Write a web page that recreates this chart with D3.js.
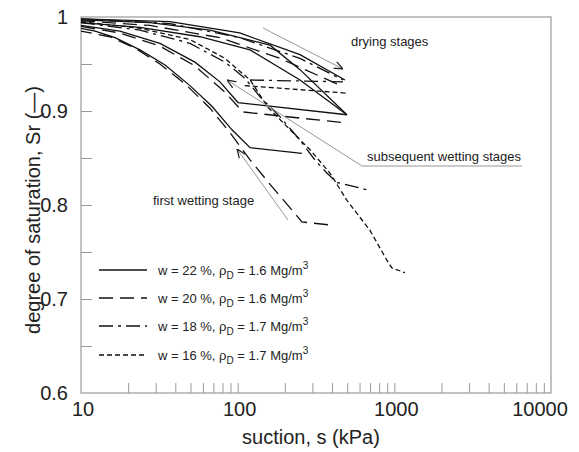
<!DOCTYPE html>
<html>
<head>
<meta charset="utf-8">
<script src="https://cdn.jsdelivr.net/npm/d3@7"></script>
<style>
  body { margin: 0; background: #fff; }
  svg { font-family: "Liberation Sans", Arial, sans-serif; }
</style>
</head>
<body>
<svg id="chart"></svg>
<script>
// axis ticks
const suctionTicks = [10, 100, 1000, 10000];
const srTicks = [0.6, 0.7, 0.8, 0.9, 1];

// legend
const waterContents = ['22', '20', '18', '16'];
const densities = ['1.6', '1.6', '1.7', '1.7'];

// each series: list of segments [suction kPa, Sr]
const w22 = [
  [[257, 0.855], [120, 0.861], [92, 0.880], [68.5, 0.905], [49.6, 0.927], [34.4, 0.949], [23.8, 0.965], [16.5, 0.978], [12.3, 0.985], [10, 0.988]],
  [[10, 0.991], [17.7, 0.985], [31.9, 0.972], [53.4, 0.952], [77.1, 0.931], [100.5, 0.909], [498, 0.896]],
  [[10, 0.994], [23.8, 0.989], [57.4, 0.979], [120, 0.965], [250, 0.933], [498, 0.896]],
  [[10, 0.997], [27.6, 0.994], [66.6, 0.986], [161, 0.970], [250, 0.944], [498, 0.896]],
  [[10, 0.998], [37, 0.995], [103, 0.983], [250, 0.960], [484, 0.933]]
];
const w20 = [
  [[377, 0.779], [257, 0.782], [216, 0.797], [161, 0.822], [120, 0.848], [89.3, 0.877], [66.6, 0.903], [46.1, 0.929], [31.9, 0.950], [22.1, 0.967], [15.3, 0.979], [10, 0.985]],
  [[10, 0.990], [17.7, 0.983], [31.9, 0.969], [53.4, 0.948], [83, 0.920], [108, 0.899], [506, 0.887]],
  [[10, 0.996], [27.6, 0.991], [77.1, 0.978], [186, 0.956], [470, 0.926]]
];
const w18 = [
  [[10, 0.994], [23.8, 0.986], [49.6, 0.972], [83, 0.952], [111, 0.935], [139, 0.915], [186, 0.894], [250, 0.869], [311, 0.848], [371, 0.834], [430, 0.824], [679, 0.816]],
  [[120, 0.933], [470, 0.931]],
  [[10, 0.998], [37, 0.993], [103, 0.978], [250, 0.956], [470, 0.933]]
];
const w16 = [
  [[10, 0.995], [23.8, 0.988], [49.6, 0.976], [83, 0.956], [120, 0.933], [156, 0.904], [216, 0.880], [289, 0.859], [388, 0.834], [498, 0.805], [699, 0.773], [898, 0.741], [966, 0.733], [1169, 0.728]],
  [[111, 0.927], [498, 0.919]]
];

const series = [
  { data: w22, dash: null },
  { data: w20, dash: '14,7' },
  { data: w18, dash: '14,5,3,5' },
  { data: w16, dash: '5,3' }
];

const width = 579, height = 452;
const margin = { left: 81, right: 28, top: 17, bottom: 59 };

const svg = d3.select('#chart').attr('width', width).attr('height', height);

const x = d3.scaleLog().domain([10, 10000]).range([margin.left, width - margin.right]);
const y = d3.scaleLinear().domain([0.6, 1]).range([height - margin.bottom, margin.top]);

const frameColor = '#9a9a9a';
const textColor = '#222';

// minor ticks along the bottom (inside)
const minorX = [];
[10, 100, 1000].forEach(d => { for (let k = 2; k <= 10; k++) minorX.push(d * k); });
svg.append('g')
  .attr('transform', `translate(0,${y(0.6)})`)
  .call(d3.axisBottom(x).tickValues(minorX.filter(v => v < 10000)).tickSize(-10).tickFormat(''))
  .call(g => g.select('.domain').remove())
  .call(g => g.selectAll('line').attr('stroke', frameColor));

svg.append('g')
  .attr('transform', `translate(${x(10)},0)`)
  .call(d3.axisLeft(y).tickValues(d3.range(0.65, 0.99, 0.05)).tickSize(-11).tickFormat(''))
  .call(g => g.select('.domain').remove())
  .call(g => g.selectAll('line').attr('stroke', frameColor));

// frame
svg.append('rect')
  .attr('x', x(10)).attr('y', y(1))
  .attr('width', x(10000) - x(10)).attr('height', y(0.6) - y(1))
  .attr('fill', 'none').attr('stroke', frameColor).attr('stroke-width', 1.2);

// tick labels
svg.append('g').selectAll('text')
  .data(suctionTicks).enter().append('text')
  .attr('x', d => Math.min(x(d) + 2, width - 39)).attr('y', 416)
  .attr('text-anchor', 'middle').attr('font-size', 20).attr('fill', textColor)
  .text(d => d);

svg.append('g').selectAll('text')
  .data(srTicks).enter().append('text')
  .attr('x', 68).attr('y', d => y(d) + 7)
  .attr('text-anchor', 'end').attr('font-size', 20).attr('fill', textColor)
  .text(d => d === 1 ? '1' : d.toFixed(1));

svg.append('text')
  .attr('x', 311).attr('y', 444)
  .attr('text-anchor', 'middle').attr('font-size', 20).attr('fill', textColor)
  .text('suction, s (kPa)');

svg.append('text')
  .attr('transform', `translate(40,${(y(0.6) + y(1)) / 2 + 5}) rotate(-90)`)
  .attr('text-anchor', 'middle').attr('font-size', 20).attr('fill', textColor)
  .text('degree of saturation, Sr (\u2014)');

// data lines
const line = d3.line().x(d => x(d[0])).y(d => y(d[1]));
series.forEach(s => {
  svg.append('g').selectAll('path')
    .data(s.data).enter().append('path')
    .attr('d', line)
    .attr('fill', 'none')
    .attr('stroke', '#111')
    .attr('stroke-width', 1.3)
    .attr('stroke-dasharray', s.dash);
});

// annotation arrows
const defs = svg.append('defs');
defs.append('marker')
  .attr('id', 'arr').attr('viewBox', '0 -5 10 10')
  .attr('refX', 10).attr('refY', 0)
  .attr('markerWidth', 9).attr('markerHeight', 9)
  .attr('markerUnits', 'userSpaceOnUse')
  .attr('orient', 'auto')
  .append('path').attr('d', 'M0,-4L10,0L0,4').attr('fill', 'none').attr('stroke', '#222').attr('stroke-width', 1.4);

const notes = svg.append('g').attr('font-size', 13).attr('fill', textColor);
const gray = '#8a8a8a';

// drying stages
svg.append('line').attr('x1', 263).attr('y1', 28).attr('x2', 343).attr('y2', 69)
  .attr('stroke', gray).attr('stroke-width', 0.9).attr('marker-end', 'url(#arr)');
notes.append('text').attr('x', 351).attr('y', 46).text('drying stages');

// subsequent wetting stages
svg.append('polyline').attr('points', '522,166 362,166 227,80')
  .attr('fill', 'none').attr('stroke', gray).attr('stroke-width', 0.9).attr('marker-end', 'url(#arr)');
notes.append('text').attr('x', 367).attr('y', 161).text('subsequent wetting stages');

// first wetting stage
svg.append('line').attr('x1', 288).attr('y1', 220).attr('x2', 237).attr('y2', 149)
  .attr('stroke', gray).attr('stroke-width', 0.9).attr('marker-end', 'url(#arr)');
notes.append('text').attr('x', 153).attr('y', 205).text('first wetting stage');

// legend
const legend = svg.append('g');
const legendY = [270, 298, 326, 355];
series.forEach((s, i) => {
  legend.append('line')
    .attr('x1', 99).attr('x2', 147).attr('y1', legendY[i]).attr('y2', legendY[i])
    .attr('stroke', '#111').attr('stroke-width', 1.3).attr('stroke-dasharray', s.dash);
  const t = legend.append('text').attr('x', 158).attr('y', legendY[i] + 5)
    .attr('font-size', 13).attr('fill', textColor);
  t.append('tspan').text(`w = ${waterContents[i]} %, \u03C1`);
  t.append('tspan').attr('font-size', 10).attr('dy', 4).text('D');
  t.append('tspan').attr('dy', -4).text(` = ${densities[i]} Mg/m`);
  t.append('tspan').attr('font-size', 10).attr('dy', -6).text('3');
});
</script>
</body>
</html>
